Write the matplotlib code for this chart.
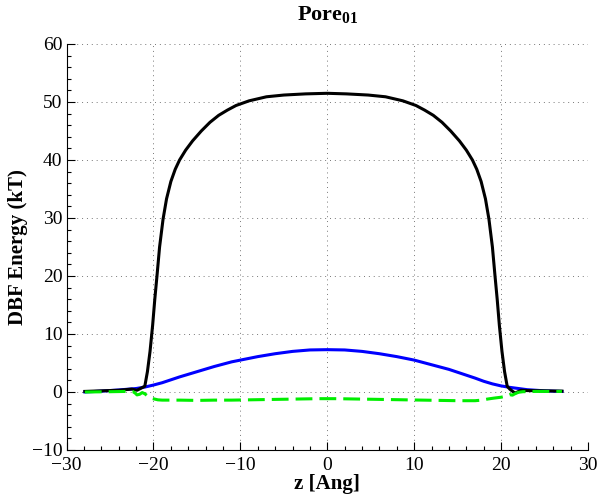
import matplotlib
matplotlib.use('Agg')
import matplotlib.pyplot as plt
from matplotlib.ticker import MultipleLocator

plt.rcParams['font.family'] = ['Liberation Serif', 'DejaVu Serif']
plt.rcParams['mathtext.fontset'] = 'custom'
plt.rcParams['mathtext.rm'] = 'Liberation Serif'
plt.rcParams['mathtext.bf'] = 'Liberation Serif:bold'

# black curve (total barrier)
z_black = [-27.9, -26, -24, -22.5, -21.9, -21.5, -21.0, -20.7, -20.4, -20.1,
           -19.85, -19.6, -19.3, -18.9, -18.5, -18.0, -17.5, -17.0, -16.3, -15.5,
           -14.5, -13.5, -12.5, -11.5, -10.5, -9, -7, -5, -2.5, 0,
           2.2, 4.7, 6.7, 8.7, 10.2, 11.2, 12.2, 13.2, 14.2, 15.2,
           16.0, 16.7, 17.2, 17.7, 18.2, 18.6, 19.0, 19.3, 19.55, 19.8,
           20.1, 20.4, 20.7, 21.0, 21.6, 22.3, 23, 25, 27]
e_black = [0.1, 0.2, 0.3, 0.5, 0.3, 0.6, 1.0, 3.5, 7, 11.5,
           16, 20, 25, 29.8, 33.3, 36.3, 38.4, 40.0, 41.7, 43.3,
           45.0, 46.5, 47.7, 48.6, 49.4, 50.2, 50.9, 51.2, 51.4, 51.5,
           51.4, 51.2, 50.9, 50.2, 49.4, 48.6, 47.7, 46.5, 45.0, 43.3,
           41.7, 40.0, 38.4, 36.3, 33.3, 29.8, 25, 20, 16, 11.5,
           7, 3.5, 1.0, 0.5, -0.2, 0.3, 0.25, 0.2, 0.15]

# blue curve
z_blue = [-27.9, -26, -24, -22, -21, -20, -19, -18, -17, -16,
          -15, -14, -13, -12, -11, -10, -8, -6, -4, -2,
          0, 2, 4, 6, 8, 10, 12, 14, 15, 16,
          17, 18, 19, 20, 21, 22, 23, 24, 25, 27]
e_blue = [0.0, 0.15, 0.35, 0.6, 0.85, 1.2, 1.6, 2.1, 2.6, 3.05,
          3.5, 3.95, 4.4, 4.8, 5.2, 5.5, 6.1, 6.6, 7.0, 7.25,
          7.3, 7.25, 7.0, 6.6, 6.1, 5.5, 4.7, 3.9, 3.4, 2.9,
          2.4, 1.85, 1.4, 1.05, 0.8, 0.6, 0.4, 0.3, 0.2, 0.1]

# green dashed curve
z_green = [-27.9, -25, -23, -22.4, -22.1, -21.9, -21.6, -21.3, -21.0, -20.6,
           -20.2, -19.5, -19, -17, -15, -13, -11, -9, -7, -5,
           -3, -1, 0, 1, 3, 5, 7, 9, 11, 13,
           15, 17, 17.8, 18.5, 19.2, 20, 20.6, 21, 21.3, 21.6,
           22, 22.5, 24, 27]
e_green = [0.0, 0.05, 0.1, 0.1, -0.2, -0.5, -0.4, -0.1, -0.3, -0.8,
           -1.1, -1.35, -1.4, -1.4, -1.45, -1.4, -1.4, -1.35, -1.3, -1.25,
           -1.2, -1.15, -1.15, -1.15, -1.2, -1.25, -1.3, -1.35, -1.4, -1.45,
           -1.5, -1.5, -1.4, -1.2, -1.05, -0.9, -0.7, -0.45, -0.55, -0.3,
           -0.05, 0.05, 0.1, 0.1]

fig = plt.figure(figsize=(6, 5), dpi=100)
ax = fig.add_axes([0.111, 0.1, 0.869, 0.812])

ax.plot(z_blue, e_blue, color='#0000ff', lw=2.2)
ax.plot(z_black, e_black, color='black', lw=2.2)
ax.plot(z_green, e_green, color='#00ee00', lw=2.2, dashes=(5.5, 2.3))

ax.set_xlim(-30, 30)
ax.set_ylim(-10, 60)
ax.xaxis.set_major_locator(MultipleLocator(10))
ax.yaxis.set_major_locator(MultipleLocator(10))
ax.xaxis.set_minor_locator(MultipleLocator(2))
ax.yaxis.set_minor_locator(MultipleLocator(2))
ax.tick_params(which='both', direction='in', top=False, right=False,
               labelsize=14, width=0.8)
ax.tick_params(which='major', length=6)
ax.tick_params(which='minor', length=3)
ax.tick_params(axis='y', pad=3)
ax.tick_params(axis='x', pad=5)
ax.grid(True, which='major', color='#777777', linestyle=(0, (1, 4)), lw=0.7)
ax.spines['top'].set_visible(False)
ax.spines['right'].set_visible(False)

ax.set_xlabel('z [Ang]', fontsize=15, fontweight='bold', labelpad=0)
ax.set_ylabel('DBF Energy (kT)', fontsize=15, fontweight='bold', labelpad=3)
ax.set_title(r'$\mathbf{Pore}_{\mathbf{01}}$', fontsize=16, pad=17)

fig.savefig('out.png', dpi=100)
